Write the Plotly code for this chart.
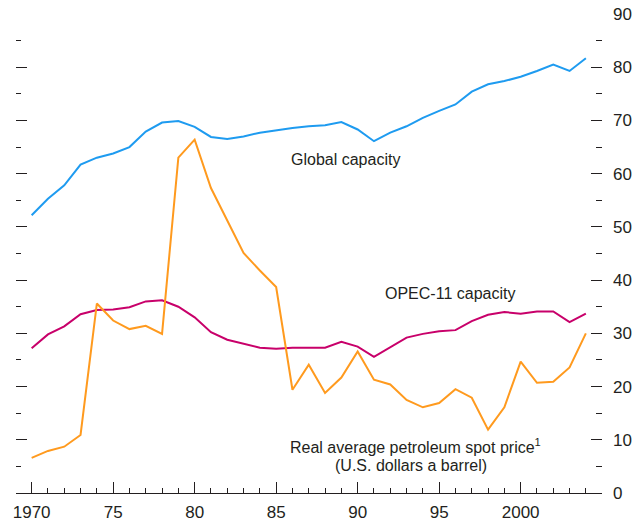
import plotly.graph_objects as go

years = list(range(1970, 2005))

global_capacity = [52.2, 55.3, 57.8, 61.7, 63.0, 63.8, 65.0, 67.9, 69.6, 69.9,
                   68.8, 66.9, 66.5, 67.0, 67.7, 68.2, 68.6, 68.9, 69.1, 69.7,
                   68.3, 66.1, 67.7, 68.9, 70.5, 71.8, 73.0, 75.4, 76.8, 77.4,
                   78.2, 79.3, 80.5, 79.3, 81.7]

opec_capacity = [27.2, 29.8, 31.3, 33.6, 34.4, 34.5, 34.9, 36.0, 36.2, 35.0,
                 33.0, 30.2, 28.8, 28.0, 27.3, 27.1, 27.3, 27.3, 27.3, 28.4,
                 27.5, 25.6, 27.4, 29.2, 29.9, 30.4, 30.6, 32.3, 33.5, 34.0,
                 33.7, 34.1, 34.1, 32.1, 33.7]

oil_price = [6.6, 7.9, 8.7, 10.9, 35.6, 32.4, 30.8, 31.4, 29.9, 63.0,
             66.4, 57.3, 51.2, 45.1, 41.8, 38.7, 19.4, 24.1, 18.8, 21.7,
             26.6, 21.3, 20.4, 17.5, 16.1, 16.9, 19.5, 17.9, 11.9, 16.1,
             24.7, 20.7, 20.9, 23.6, 30.0]

x_tickvals = [1970, 1975, 1980, 1985, 1990, 1995, 2000]
x_ticktext = ["1970", "75", "80", "85", "90", "95", "2000"]
y_tickvals = [0, 10, 20, 30, 40, 50, 60, 70, 80, 90]

FONT = "Liberation Sans, Arial, sans-serif"
FS = 16
TFS = 17
INK = "#231f20"

fig = go.Figure()
fig.add_trace(go.Scatter(x=years, y=global_capacity, mode="lines",
                         line=dict(color="#1E9BF0", width=2), hoverinfo="skip"))
fig.add_trace(go.Scatter(x=years, y=opec_capacity, mode="lines",
                         line=dict(color="#C8006A", width=2), hoverinfo="skip"))
fig.add_trace(go.Scatter(x=years, y=oil_price, mode="lines", yaxis="y2",
                         line=dict(color="#FF9A1E", width=2), hoverinfo="skip"))

fig.update_layout(
    width=634, height=527,
    margin=dict(l=16, r=32, t=13.5, b=34, autoexpand=False),
    paper_bgcolor="white", plot_bgcolor="white",
    showlegend=False,
    font=dict(family=FONT, size=FS, color=INK),
    xaxis=dict(range=[1969.04, 2004.99], showgrid=False, zeroline=False,
               automargin=False,
               showline=True, linecolor=INK, linewidth=1,
               tickmode="array", tickvals=x_tickvals, ticktext=x_ticktext,
               ticks="inside", ticklen=11, tickcolor=INK, tickwidth=1,
               ticklabelstandoff=4,
               minor=dict(dtick=1, tick0=1970, ticks="inside", ticklen=5,
                          tickcolor=INK, tickwidth=1, showgrid=False),
               tickfont=dict(family=FONT, size=TFS, color=INK)),
    yaxis=dict(range=[0, 90], showgrid=False, zeroline=False, showline=False,
               automargin=False,
               tickmode="array", tickvals=y_tickvals, showticklabels=False,
               ticks="inside", ticklen=11, tickcolor=INK, tickwidth=1,
               minor=dict(dtick=5, tick0=0, ticks="inside", ticklen=5,
                          tickcolor=INK, tickwidth=1, showgrid=False)),
    yaxis2=dict(range=[0, 90], overlaying="y", side="right", showgrid=False,
                zeroline=False, showline=False, automargin=False,
                tickmode="array", tickvals=y_tickvals,
                ticks="inside", ticklen=11, tickcolor=INK, tickwidth=1,
                ticklabelstandoff=10,
                minor=dict(dtick=5, tick0=0, ticks="inside", ticklen=6,
                           tickcolor=INK, tickwidth=1, showgrid=False),
                tickfont=dict(family=FONT, size=TFS, color=INK)),
)

ann = dict(xref="x", yref="y", showarrow=False, xanchor="center", yanchor="middle",
           font=dict(family=FONT, size=FS, color=INK))
fig.add_annotation(x=1989.26, y=62.7, text="Global capacity", **ann)
fig.add_annotation(x=1995.66, y=37.5, text="OPEC-11 capacity", **ann)
fig.add_annotation(x=1993.55, y=8.85, text="Real average petroleum spot price<sup>1</sup>", **ann)
fig.add_annotation(x=1993.30, y=5.18, text="(U.S. dollars a barrel)", **ann)

fig.write_html("out.html", config={"displayModeBar": False},
               post_script="document.body.style.margin='0';document.body.style.padding='0';")
